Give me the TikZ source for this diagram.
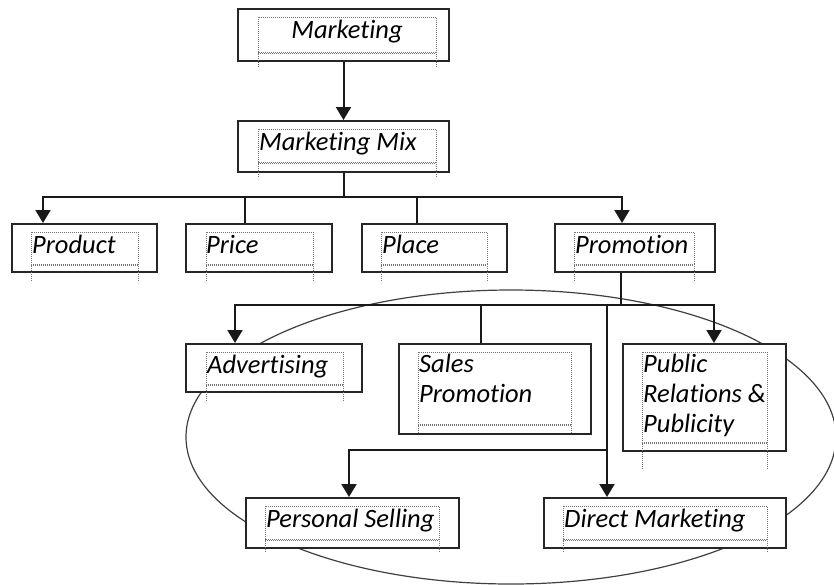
\documentclass[tikz,border=0pt]{standalone}
\usepackage{fontspec}
\setmainfont{Carlito}[Ligatures=NoCommon]
\usepackage{tikz}
\usetikzlibrary{arrows.meta}

\begin{document}
\begin{tikzpicture}[x=1pt,y=-1pt,
    box/.style={draw=black!85,line width=2pt,fill=white,inner sep=0pt},
    frame/.style={draw=black!55,line width=1pt,dash pattern=on 1pt off 1pt},
    lbl/.style={font=\fontsize{26.5}{30}\selectfont\itshape,inner sep=0pt,align=left},
    conn/.style={draw=black!90,line width=2pt},
    arr/.style={conn,-{Triangle[width=15pt,length=13pt]}},
    ring/.style={draw=black!75,line width=1.2pt}]
  \useasboundingbox (0,0) rectangle (834,584);
  \clip (0,0) rectangle (834,584);
  % the oval round the promotion tools, behind the boxes
  \draw[ring] (511,437) ellipse [x radius=325, y radius=147];
  % outer boxes: name/left/top/right/bottom
  \foreach \n/\l/\t/\r/\b in {mkt/238/9/449/61, mix/238/121/449/172,
      prod/12/224/157/272, price/186/224/332/272, place/362/224/507/272,
      prom/555/224/715/272, adv/186/344/362/392, sales/399/344/591/434,
      pub/623/344/786/451, pers/246/498/459/548, dir/544/498/786/548}
    \node[box,minimum width=\r-\l,minimum height=\b-\t] (\n)
      at ({(\l+\r)/2},{(\t+\b)/2}) {};
  % dotted text frames with their legs: left/top/right/bottom/leg end
  \foreach \l/\t/\r/\b/\g in {258/17/436/52/68, 258/129/436/162/178,
      31/232/138/264/282, 206/232/313/264/282, 381/232/487/264/282,
      574/232/694/264/282, 206/352/343/384/402, 418/352/571/424/433,
      642/352/767/442/470, 265/506/439/539/552, 563/506/767/539/552}{
    \draw[frame] (\l,\t) rectangle (\r,\b);
    \draw[frame] (\l,\b+1.8) -- (\r,\b+1.8);
    \draw[frame] (\l,\b) -- (\l,\g) (\r,\b) -- (\r,\g);}
  % labels
  \node[lbl,anchor=base] (mkt-t) at (347,38) {Marketing};
  \node[lbl,anchor=base west] (mix-t) at (259,150) {Marketing Mix};
  \node[lbl,anchor=base west] (prod-t) at (32,253) {Product};
  \node[lbl,anchor=base west] (price-t) at (206,253) {Price};
  \node[lbl,anchor=base west] (place-t) at (382,253) {Place};
  \node[lbl,anchor=base west] (prom-t) at (575,253) {Promotion};
  \node[lbl,anchor=base west] (adv-t) at (207,373) {Advertising};
  \node[lbl,anchor=north west] (sales-t) at (419,354) {Sales\\Promotion};
  \node[lbl,anchor=north west] (pub-t) at (643,354) {Public\\Relations \&\\Publicity};
  \node[lbl,anchor=base west] (pers-t) at (266,527) {Personal Selling};
  \node[lbl,anchor=base west] (dir-t) at (564,527) {Direct Marketing};
  % connectors
  \draw[arr] (mkt) -- (mix);
  \draw[conn] (mix.south) -- ++(0,24) coordinate (mixj);
  \draw[arr] (mixj) -| ([xshift=32]prod.north west);
  \draw[conn] (mixj) -| ([xshift=60]price.north west);
  \draw[conn] (mixj) -| ([xshift=56]place.north west);
  \draw[arr] (mixj) -| ([xshift=68]prom.north west);
  \draw[conn] ([xshift=67]prom.south west) -- ++(0,32) coordinate (promj);
  \draw[arr] (promj) -| ([xshift=50]adv.north west);
  \draw[conn] (promj) -| ([xshift=83]sales.north west);
  \draw[arr] (promj) -| ([xshift=92]pub.north west);
  \coordinate (dirtop) at ([xshift=64]dir.north west);
  \coordinate (dirj) at ([yshift=47]dirtop);
  \draw[arr] (promj -| dirtop) -- (dirtop);
  \draw[arr] (dirj) -| ([xshift=104]pers.north west);
\end{tikzpicture}
\end{document}
